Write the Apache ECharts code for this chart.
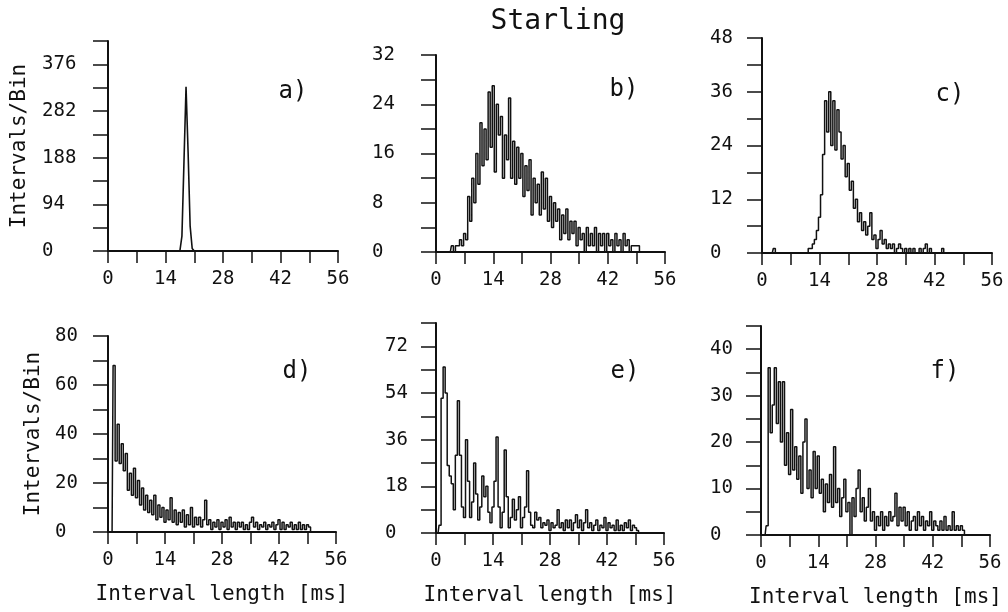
<!DOCTYPE html>
<html>
<head>
<meta charset="utf-8">
<script src="https://cdn.jsdelivr.net/npm/echarts@6/dist/echarts.min.js"></script>
<style>html,body{margin:0;padding:0;background:#fff}#c{width:1008px;height:612px}</style>
</head>
<body>
<div id="c"></div>
<script>
// Bin width 0.5 ms, bins start at 0 ms; 101 values (0 .. 50 ms)
const BIN_MS = 0.5;
const xTicks = [0, 14, 28, 42, 56];
const panelLabels = ['a)', 'b)', 'c)', 'd)', 'e)', 'f)'];
const titleText = 'Starling';
const yName = 'Intervals/Bin';
const xName = 'Interval length [ms]';

const histA = [
  0,0,0,0,0,0,0,0,0,0,
  0,0,0,0,0,0,0,0,0,0,
  0,0,0,0,0,0,0,0,0,0,
  0,0,0,0,0,0,30,180,331,200,
  50,5,0,0,0,0,0,0,0,0,
  0,0,0,0,0,0,0,0,0,0,
  0,0,0,0,0,0,0,0,0,0,
  0,0,0,0,0,0,0,0,0,0,
  0,0,0,0,0,0,0,0,0,0,
  0,0,0,0,0,0,0,0,0,0,
  0];
const histB = [
  0,0,0,0,0,0,0,0,1,0,
  1,1,2,1,3,2,9,5,12,8,
  16,11,21,14,20,15,26,17,27,13,
  24,19,22,12,19,15,25,12,18,11,
  17,12,16,9,14,10,15,6,12,8,
  11,6,13,7,12,5,9,4,8,5,
  7,2,6,3,7,2,5,3,5,1,
  4,2,3,0,4,1,3,1,4,0,
  3,1,3,0,3,1,2,0,3,1,
  2,0,3,1,2,0,1,1,1,1,
  0];
const histC = [
  0,0,0,0,0,0,1,0,0,0,
  0,0,0,0,0,0,0,0,0,0,
  0,0,0,1,1,2,3,5,8,13,
  22,34,27,36,24,34,23,32,27,21,
  24,17,20,14,16,10,12,7,9,5,
  7,4,6,9,3,4,1,3,5,2,
  3,1,2,1,2,0,1,2,1,0,
  1,0,1,0,1,0,0,1,0,1,
  2,0,1,0,0,0,0,0,1,0,
  0,0,0,0,0,0,0,0,0,0,
  0];
const histD = [
  0,0,0,68,29,44,28,36,25,32,
  17,24,15,26,14,21,11,18,9,15,
  8,13,7,15,5,11,6,10,4,9,
  5,14,4,9,3,8,4,9,2,7,
  3,10,2,6,3,6,2,5,13,3,
  5,1,4,2,5,1,4,2,5,1,
  6,2,4,1,4,2,4,1,3,1,
  4,6,2,4,1,3,2,4,1,3,
  2,4,1,3,5,1,4,1,3,2,
  4,1,3,1,4,1,3,1,3,2,
  0];
const histE = [
  0,0,3,52,64,54,26,22,19,9,
  30,51,30,10,6,36,20,6,12,27,
  15,5,10,22,14,18,8,4,10,20,
  37,10,2,8,32,14,2,6,13,5,
  9,14,2,6,10,24,8,3,2,8,
  5,6,2,4,3,5,1,4,2,3,
  9,2,4,1,5,2,5,1,4,7,
  2,5,1,4,9,2,4,1,3,5,
  1,3,2,6,1,4,2,3,1,5,
  1,3,1,4,2,5,1,3,2,1,
  0];
const histF = [
  0,0,0,2,36,22,28,36,24,33,
  20,33,15,22,13,27,14,19,12,17,
  9,20,25,10,14,8,18,10,17,9,
  12,5,11,7,13,6,19,7,10,4,
  8,12,5,7,0,8,4,10,14,5,
  8,3,6,10,3,5,1,4,2,5,
  1,4,2,5,3,4,9,2,6,3,
  6,2,5,1,3,4,1,5,2,4,
  1,3,2,5,1,3,2,1,3,1,
  4,1,2,1,5,1,2,1,2,1,
  0];

// y-axis scales: [max, tick interval, label step]
const yMax   = [423, 32, 48, 80, 81, 45];
const yTick  = [47, 4, 6, 10, 9, 5];
const yLabel = [94, 8, 12, 20, 18, 10];

const hists = [histA, histB, histC, histD, histE, histF];

// layout (pixels)
const grids = [
  {left:108, top:41,  width:230, height:210},
  {left:436, top:55,  width:229, height:197},
  {left:762, top:38,  width:230, height:215},
  {left:108, top:336, width:228, height:196},
  {left:436, top:323, width:228, height:210},
  {left:761, top:326, width:229, height:209}
];
const yLabelMargin = [66, 64, 52, 53, 51, 51];
const labelPos = [[293,92],[624,90],[950,95],[297,372],[625,372],[945,372]];

const FONT = '"DejaVu Sans Mono", "Liberation Mono", monospace';
const INK = '#111';

const chart = echarts.init(document.getElementById('c'), null, {renderer:'canvas'});

const xAxes = [], yAxes = [], series = [];
for (let p = 0; p < 6; p++) {
  const bottomRow = p >= 3;
  xAxes.push({
    gridIndex: p, type: 'value', min: 0, max: 56, interval: 7,
    axisLine: {show: true, onZero: false, lineStyle: {color: INK, width: 2}},
    axisTick: {show: true, length: 12, lineStyle: {color: INK, width: 1.5}},
    axisLabel: {
      color: INK, fontSize: 19, fontFamily: FONT, margin: 19,
      formatter: v => (xTicks.indexOf(v) >= 0 ? String(v) : '')
    },
    splitLine: {show: false},
    name: bottomRow ? xName : '',
    nameLocation: 'middle', nameGap: 52,
    nameTextStyle: {color: INK, fontSize: 21, fontFamily: FONT}
  });
  const step = yLabel[p];
  yAxes.push({
    gridIndex: p, type: 'value', min: 0, max: yMax[p], interval: yTick[p],
    axisLine: {show: true, lineStyle: {color: INK, width: 2}},
    axisTick: {show: true, length: 15, lineStyle: {color: INK, width: 1.5}},
    axisLabel: {
      color: INK, fontSize: 19, fontFamily: FONT, align: 'left', margin: yLabelMargin[p],
      formatter: v => (Math.round(v) % step === 0 ? String(Math.round(v)) : '')
    },
    splitLine: {show: false},
    name: (p === 0 || p === 3) ? yName : '',
    nameLocation: 'middle', nameGap: p === 0 ? 78 : 64, nameRotate: 90,
    nameTextStyle: {color: INK, fontSize: 21, fontFamily: FONT}
  });
  series.push({
    type: 'line', xAxisIndex: p, yAxisIndex: p,
    data: hists[p].map((v, i) => [i * BIN_MS, v]),
    step: p === 0 ? false : 'middle',
    showSymbol: false, symbol: 'none',
    lineStyle: {color: INK, width: p === 0 ? 1.6 : 1.5},
    clip: true, animation: false, silent: true
  });
}

const graphics = [{
  type: 'text', x: 558, y: 22,
  style: {text: titleText, font: '28px ' + FONT, fill: INK,
          align: 'center', verticalAlign: 'middle', textAlign: 'center', textVerticalAlign: 'middle'}
}];
panelLabels.forEach((t, i) => {
  graphics.push({
    type: 'text', x: labelPos[i][0], y: labelPos[i][1],
    style: {text: t, font: '24px ' + FONT, fill: INK,
            align: 'center', verticalAlign: 'middle', textAlign: 'center', textVerticalAlign: 'middle'}
  });
});

chart.setOption({
  animation: false,
  backgroundColor: '#fff',
  grid: grids.map(g => Object.assign({containLabel: false}, g)),
  xAxis: xAxes,
  yAxis: yAxes,
  series: series,
  graphic: graphics
});
</script>
</body>
</html>
